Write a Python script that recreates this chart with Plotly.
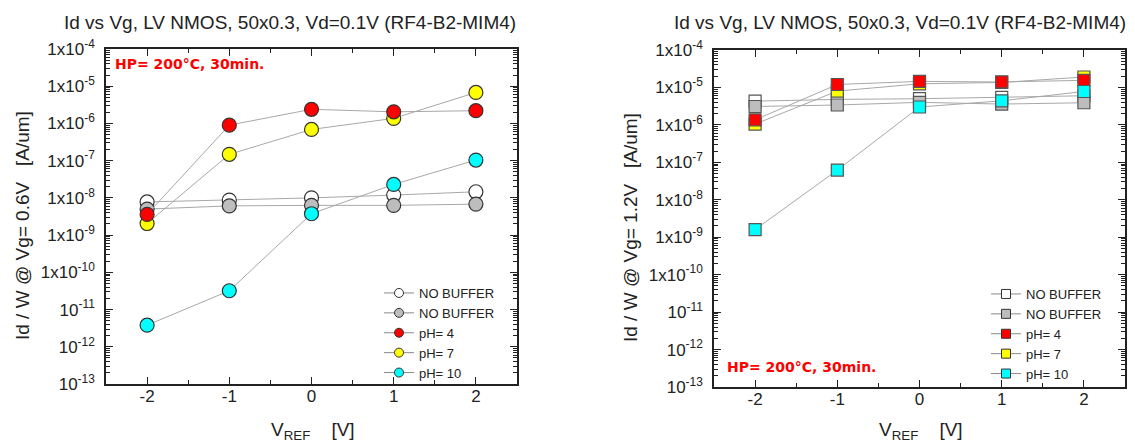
import plotly.graph_objects as go

# ---------------- data ----------------
vref = [-2, -1, 0, 1, 2]

# Left panel: Id/W @ Vg = 0.6 V  [A/um]
left_nobuf_white = [7.8e-9, 8.7e-9, 1.0e-8, 1.19e-8, 1.46e-8]
left_nobuf_gray = [5.0e-9, 6.1e-9, 6.3e-9, 6.3e-9, 6.8e-9]
left_ph4 = [3.6e-9, 9.0e-7, 2.4e-6, 2.05e-6, 2.2e-6]
left_ph7 = [2.05e-9, 1.48e-7, 6.9e-7, 1.37e-6, 6.8e-6]
left_ph10 = [3.8e-12, 3.2e-11, 3.75e-9, 2.3e-8, 1.04e-7]

# Right panel: Id/W @ Vg = 1.2 V  [A/um]
right_nobuf_white = [4.3e-6, 4.8e-6, 5.0e-6, 5.4e-6, 6.0e-6]
right_nobuf_gray = [3.1e-6, 3.4e-6, 4.0e-6, 3.6e-6, 3.9e-6]
right_ph4 = [1.36e-6, 1.2e-5, 1.45e-5, 1.4e-5, 1.55e-5]
right_ph7 = [1.05e-6, 8.0e-6, 1.25e-5, 1.36e-5, 1.9e-5]
right_ph10 = [1.6e-9, 6.2e-8, 3.0e-6, 4.4e-6, 7.8e-6]

legend_names = ["NO BUFFER", "NO BUFFER", "pH= 4", "pH= 7", "pH= 10"]
ytick_vals = [1e-4, 1e-5, 1e-6, 1e-7, 1e-8, 1e-9, 1e-10, 1e-11, 1e-12, 1e-13]
ytick_text = ["1x10<sup>-4</sup>", "1x10<sup>-5</sup>", "1x10<sup>-6</sup>",
              "1x10<sup>-7</sup>", "1x10<sup>-8</sup>", "1x10<sup>-9</sup>",
              "1x10<sup>-10</sup>", "10<sup>-11</sup>", "10<sup>-12</sup>",
              "10<sup>-13</sup>"]
xtick_vals = [-2, -1, 0, 1, 2]
xtick_text = ["-2", "-1", "0", "1", "2"]

title_text = "Id vs Vg, LV NMOS, 50x0.3, Vd=0.1V (RF4-B2-MIM4)"
hp_text = "HP= 200°C, 30min."

# ---------------- styles ----------------
C_WHITE = "#ffffff"
C_GRAY = "#bdbdbd"
C_RED = "#ff0000"
C_YEL = "#ffff00"
C_CYAN = "#00ffff"
LINE_C = "#a8a8a8"
FONT = "Liberation Sans, Arial, sans-serif"
W, H = 1135, 444
OFF = 8  # page body margin offset


def xp(px):
    return (px - OFF) / W


def yp(py):
    return 1 - (py - OFF) / H


fig = go.Figure()


def add_panel(xa, ya, series_draw, series_leg, symbol, msize, medge, legname):
    for vals, col in series_draw:
        fig.add_trace(go.Scatter(
            x=vref, y=vals, mode="lines+markers", xaxis=xa, yaxis=ya,
            line=dict(color=LINE_C, width=1),
            marker=dict(symbol=symbol, size=msize, color=col,
                        line=dict(color=medge, width=1.2)),
            showlegend=False, hoverinfo="x+y"))
    for name, col in series_leg:
        fig.add_trace(go.Scatter(
            x=[None], y=[None], mode="lines+markers", xaxis=xa, yaxis=ya,
            name=name, legend=legname,
            line=dict(color="#8a8a8a", width=1),
            marker=dict(symbol=symbol, size=9, color=col,
                        line=dict(color="#333333", width=1))))


add_panel("x", "y",
          [(left_nobuf_white, C_WHITE), (left_nobuf_gray, C_GRAY),
           (left_ph7, C_YEL), (left_ph4, C_RED), (left_ph10, C_CYAN)],
          list(zip(legend_names, [C_WHITE, C_GRAY, C_RED, C_YEL, C_CYAN])),
          "circle", 14, "#333333", "legend")
add_panel("x2", "y2",
          [(right_nobuf_white, C_WHITE), (right_nobuf_gray, C_GRAY),
           (right_ph7, C_YEL), (right_ph4, C_RED), (right_ph10, C_CYAN)],
          list(zip(legend_names, [C_WHITE, C_GRAY, C_RED, C_YEL, C_CYAN])),
          "square", 12, "#555555", "legend2")


def xaxis(domain, anchor):
    return dict(domain=domain, anchor=anchor, range=[-2.5, 2.5], automargin=False,
                tickmode="array", tickvals=xtick_vals, ticktext=xtick_text,
                ticks="inside", ticklen=7, tickwidth=1.3, tickcolor="#222",
                showline=True, linewidth=1.6, linecolor="#222", mirror="ticks",
                showgrid=False, zeroline=False,
                tickfont=dict(family=FONT, size=17, color="#222"),
                ticklabelstandoff=-4,
                minor=dict(dtick=0.5, ticks="inside", ticklen=4,
                           tickwidth=1.2, tickcolor="#222", showgrid=False))


def yaxis(domain, anchor):
    return dict(domain=domain, anchor=anchor, type="log", range=[-13, -4],
                automargin=False,
                tickmode="array", tickvals=ytick_vals, ticktext=ytick_text,
                ticks="inside", ticklen=7, tickwidth=1.3, tickcolor="#222",
                showline=True, linewidth=1.6, linecolor="#222", mirror="ticks",
                showgrid=False, zeroline=False,
                tickfont=dict(family=FONT, size=17, color="#222"),
                ticklabelstandoff=6,
                minor=dict(dtick="D1", ticks="inside", ticklen=4,
                           tickwidth=1, tickcolor="#222", showgrid=False))


fig.update_layout(
    template="none",
    width=W, height=H, margin=dict(l=0, r=0, t=0, b=0, pad=0),
    paper_bgcolor="white", plot_bgcolor="white",
    font=dict(family=FONT, color="#222"),
    xaxis=xaxis([xp(106), xp(517)], "y"),
    yaxis=yaxis([yp(384), yp(49)], "x"),
    xaxis2=xaxis([xp(714), xp(1125)], "y2"),
    yaxis2=yaxis([yp(387), yp(50)], "x2"),
    legend=dict(x=xp(379), y=yp(278), xanchor="left", yanchor="top",
                bgcolor="rgba(0,0,0,0)", borderwidth=0,
                font=dict(family=FONT, size=13, color="#222"),
                tracegroupgap=0, itemwidth=30),
    legend2=dict(x=xp(986), y=yp(279), xanchor="left", yanchor="top",
                 bgcolor="rgba(0,0,0,0)", borderwidth=0,
                 font=dict(family=FONT, size=13, color="#222"),
                 tracegroupgap=0, itemwidth=30),
    showlegend=True,
)

ann = []
for cx in (290, 900):
    ann.append(dict(text=title_text, x=xp(cx), y=yp(23), xref="paper", yref="paper",
                    xanchor="center", yanchor="middle", showarrow=False,
                    font=dict(family=FONT, size=19, color="#222")))
ann.append(dict(text="Id / W @ Vg= 0.6V\u00a0\u00a0\u00a0[A/um]", textangle=-90,
                x=xp(22), y=yp(226), xref="paper", yref="paper",
                xanchor="center", yanchor="middle", showarrow=False,
                font=dict(family=FONT, size=19, color="#222")))
ann.append(dict(text="Id / W @ Vg= 1.2V\u00a0\u00a0\u00a0[A/um]", textangle=-90,
                x=xp(630), y=yp(228), xref="paper", yref="paper",
                xanchor="center", yanchor="middle", showarrow=False,
                font=dict(family=FONT, size=19, color="#222")))
for cx in (313, 921):
    ann.append(dict(text="V<sub>REF</sub>\u00a0\u00a0\u00a0\u00a0[V]",
                    x=xp(cx), y=yp(417), xref="paper", yref="paper",
                    xanchor="center", yanchor="top", showarrow=False,
                    font=dict(family=FONT, size=19, color="#222")))
ann.append(dict(text="<b>" + hp_text + "</b>", x=xp(113), y=yp(64),
                xref="paper", yref="paper", xanchor="left", yanchor="middle",
                showarrow=False,
                font=dict(family="DejaVu Sans", size=14, color="#ff0000")))
ann.append(dict(text="<b>" + hp_text + "</b>", x=xp(725), y=yp(367),
                xref="paper", yref="paper", xanchor="left", yanchor="middle",
                showarrow=False,
                font=dict(family="DejaVu Sans", size=14, color="#ff0000")))
fig.update_layout(annotations=ann)

fig.write_html("out.html")
